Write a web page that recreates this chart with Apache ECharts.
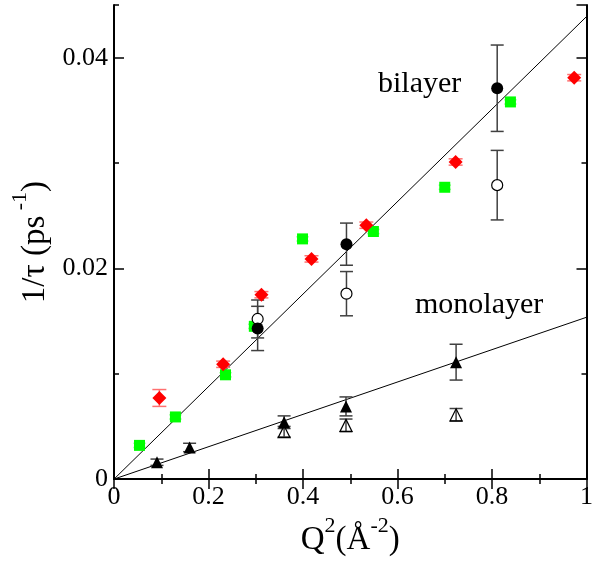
<!DOCTYPE html>
<html>
<head>
<meta charset="utf-8">
<script src="https://cdn.jsdelivr.net/npm/echarts@6/dist/echarts.min.js"></script>
<style>html,body{margin:0;padding:0;background:#fff;}#c{width:596px;height:562px;}</style>
</head>
<body>
<div id="c"></div>
<script>
// ---- data ----
var greenX = [0.054, 0.130, 0.236, 0.297, 0.399, 0.549, 0.700, 0.839];
var greenY = [0.0032, 0.0059, 0.0099, 0.0145, 0.0228, 0.0235, 0.0277, 0.0358];
var greenErr = [0.0002, 0.0002, 0.0002, 0.0002, 0.0002, 0.0002, 0.0002, 0.0002];

var redX = [0.096, 0.231, 0.312, 0.418, 0.534, 0.723, 0.974];
var redY = [0.0077, 0.0109, 0.0175, 0.0209, 0.0241, 0.0301, 0.0381];
var redErr = [0.0008, 0.0003, 0.0003, 0.0003, 0.0003, 0.0003, 0.0003];

var biFilledX = [0.304, 0.492, 0.811];
var biFilledY = [0.0143, 0.0223, 0.0371];
var biFilledErr = [0.0021, 0.0020, 0.0041];

var biOpenX = [0.304, 0.492, 0.811];
var biOpenY = [0.0152, 0.0176, 0.0279];
var biOpenErr = [0.0018, 0.0021, 0.0033];

var monoFilledX = [0.091, 0.160, 0.360, 0.491, 0.724];
var monoFilledY = [0.0016, 0.0030, 0.0054, 0.0069, 0.0111];
var monoFilledErr = [0.0003, 0.0004, 0.0006, 0.0009, 0.0017];

var monoOpenX = [0.360, 0.491, 0.724];
var monoOpenY = [0.0045, 0.0051, 0.0061];
var monoOpenErr = [0.0005, 0.0006, 0.0006];

var biLineX = [0, 1];
var biLineY = [0, 0.0439];
var monoLineX = [0, 1];
var monoLineY = [0, 0.01536];

var xTicks = {min: 0, max: 1, major: 0.2};
var yTicks = {min: 0, max: 0.045, major: 0.02, minor: 0.01};

// ---- helpers ----
function pts(xs, ys) { return xs.map(function (x, i) { return [x, ys[i]]; }); }
function errPts(xs, ys, es) { return xs.map(function (x, i) { return [x, ys[i], es[i]]; }); }

var FONT = "'Liberation Serif', 'DejaVu Serif', serif";

function errSeries(data, color, half, width) {
  return {
    type: 'custom',
    z: 2,
    silent: true,
    data: data,
    renderItem: function (params, api) {
      var x = api.value(0), y = api.value(1), e = api.value(2);
      var t = api.coord([x, y + e]);
      var b = api.coord([x, y - e]);
      var st = {stroke: color, lineWidth: width};
      return {
        type: 'group',
        children: [
          {type: 'line', shape: {x1: t[0], y1: t[1], x2: b[0], y2: b[1]}, style: st},
          {type: 'line', shape: {x1: t[0] - half, y1: t[1], x2: t[0] + half, y2: t[1]}, style: st},
          {type: 'line', shape: {x1: b[0] - half, y1: b[1], x2: b[0] + half, y2: b[1]}, style: st}
        ]
      };
    }
  };
}

function scatter(data, symbol, size, fill, stroke, z) {
  return {
    type: 'scatter',
    data: data,
    symbol: symbol,
    symbolSize: size,
    z: z,
    silent: true,
    itemStyle: {color: fill, borderColor: stroke, borderWidth: stroke ? 1.2 : 0, opacity: 1}
  };
}

function lineSeries(data) {
  return {
    type: 'line',
    data: data,
    symbol: 'none',
    z: 1,
    silent: true,
    lineStyle: {color: '#000', width: 1}
  };
}

var tickStyle = {color: '#000', width: 1.5};

function yAx(pos, interval, len, showLabel, showLine) {
  return {
    type: 'value',
    position: pos,
    min: yTicks.min, max: yTicks.max, interval: interval,
    axisLine: {show: showLine, lineStyle: {color: '#000', width: 2}},
    axisTick: {show: true, inside: true, length: len, lineStyle: tickStyle},
    axisLabel: {
      show: showLabel, color: '#000', fontFamily: FONT, fontSize: 26, margin: 6,
      showMaxLabel: false,
      formatter: function (v) { return String(Math.round(v * 100) / 100); }
    },
    splitLine: {show: false}
  };
}

var titleRich = {
  b: {fontFamily: FONT, fontSize: 33, color: '#000', lineHeight: 42, verticalAlign: 'bottom'},
  s: {fontFamily: FONT, fontSize: 22, color: '#000', verticalAlign: 'top', lineHeight: 22}
};

var chart = echarts.init(document.getElementById('c'), null, {renderer: 'canvas'});
chart.setOption({
  animation: false,
  backgroundColor: '#fff',
  grid: {left: 114, right: 8, top: 5, bottom: 82, containLabel: false},
  xAxis: [
    {
      type: 'value', position: 'bottom',
      min: xTicks.min, max: xTicks.max, interval: xTicks.major,
      axisLine: {show: true, lineStyle: {color: '#000', width: 2}},
      axisTick: {show: true, inside: true, length: 10, lineStyle: tickStyle},
      minorTick: {show: true, splitNumber: 2, length: 5, lineStyle: tickStyle},
      axisLabel: {color: '#000', fontFamily: FONT, fontSize: 26, margin: 5},
      splitLine: {show: false},
      minorSplitLine: {show: false},
      name: '{b|Q}{s|2}{b|(Å}{s|-2}{b|)}',
      nameLocation: 'middle',
      nameGap: 33,
      nameTextStyle: {rich: titleRich}
    },
    {
      type: 'value', position: 'top',
      min: xTicks.min, max: xTicks.max, interval: xTicks.major,
      axisLine: {show: true, lineStyle: {color: '#000', width: 2}},
      axisTick: {show: true, inside: true, length: 10, lineStyle: tickStyle},
      minorTick: {show: true, splitNumber: 2, length: 5, lineStyle: tickStyle},
      axisLabel: {show: false},
      splitLine: {show: false}
    }
  ],
  yAxis: [
    Object.assign(yAx('left', yTicks.major, 10, true, true), {
      name: '{b|1/τ (ps}{s| -1}{b|)}',
      nameLocation: 'middle',
      nameGap: 57,
      nameRotate: 90,
      nameTextStyle: {rich: titleRich}
    }),
    yAx('left', yTicks.minor, 5, false, false),
    yAx('right', yTicks.major, 10, false, true),
    yAx('right', yTicks.minor, 5, false, false)
  ],
  graphic: [
    {type: 'text', left: 378, top: 69, silent: true,
      style: {text: 'bilayer', fontFamily: FONT, fontSize: 30, fill: '#000'}},
    {type: 'text', left: 415, top: 290, silent: true,
      style: {text: 'monolayer', fontFamily: FONT, fontSize: 30, fill: '#000'}}
  ],
  series: [
    lineSeries(pts(biLineX, biLineY)),
    lineSeries(pts(monoLineX, monoLineY)),
    errSeries(errPts(greenX, greenY, greenErr), '#7fff7f', 6, 1.5),
    errSeries(errPts(redX, redY, redErr), '#ff7070', 7, 1.5),
    errSeries(errPts(biOpenX, biOpenY, biOpenErr), '#404040', 6.5, 1.5),
    errSeries(errPts(biFilledX, biFilledY, biFilledErr), '#404040', 6.5, 1.5),
    errSeries(errPts(monoOpenX, monoOpenY, monoOpenErr), '#404040', 6.5, 1.5),
    errSeries(errPts(monoFilledX, monoFilledY, monoFilledErr), '#404040', 6.5, 1.5),
    scatter(pts(greenX, greenY), 'rect', 11, '#00ff00', null, 3),
    scatter(pts(redX, redY), 'diamond', 14, '#ff0000', null, 3),
    scatter(pts(biOpenX, biOpenY), 'circle', 11, '#ffffff', '#000', 4),
    scatter(pts(biFilledX, biFilledY), 'circle', 12, '#000', null, 5),
    scatter(pts(monoOpenX, monoOpenY), 'triangle', 12, 'none', '#000', 4),
    scatter(pts(monoFilledX, monoFilledY), 'triangle', 12, '#000', null, 5)
  ]
});
</script>
</body>
</html>
